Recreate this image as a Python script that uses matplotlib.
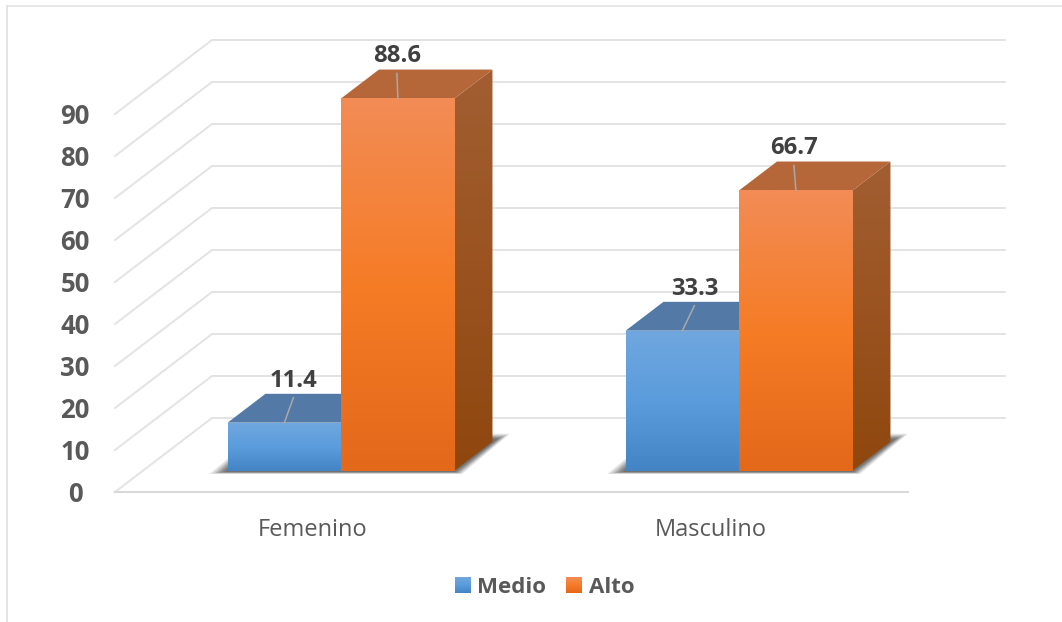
import matplotlib
matplotlib.use("Agg")
import matplotlib.pyplot as plt
import numpy as np
from matplotlib.colors import LinearSegmentedColormap
from matplotlib.image import BboxImage
from matplotlib.legend_handler import HandlerBase
from matplotlib.patches import Patch, Polygon
from matplotlib.transforms import Bbox, TransformedBbox

categories = ["Femenino", "Masculino"]
series_names = ["Medio", "Alto"]
medio = [11.4, 33.3]
alto = [88.6, 66.7]
y_ticks = [0, 10, 20, 30, 40, 50, 60, 70, 80, 90]

W, H = 1062, 622
# pixel scale of the front plane of the fake 3d box
X_PX = 398
Y_PX = 4.2
X_ZERO_PX = 313
Y_ZERO_PX = 492
DEPTH_X = 97 / X_PX
DEPTH_Y = 74 / Y_PX
BAR_W = 113.5 / X_PX
D_FRONT = 0.29
D_BACK = 0.68
FLOOR_L = (115 - X_ZERO_PX) / X_PX
FLOOR_R = (908 - X_ZERO_PX) / X_PX

BLUE = ["#70A7DF", "#5A9CDC", "#4284C4"]
ORANGE = ["#F28C56", "#F67C26", "#E3681A"]
BLUE_TOP = "#5379A6"
ORANGE_TOP = "#B5673A"
ORANGE_SIDE = ["#A25E32", "#9A5320", "#8F470E"]


def cmap_of(colors):
    return LinearSegmentedColormap.from_list("g", colors)


def proj(x, v, d):
    return (x + d * DEPTH_X, v + d * DEPTH_Y)


def gradient(ax, pts, colors, z):
    xs = [p[0] for p in pts]
    ys = [p[1] for p in pts]
    grad = np.linspace(0, 1, 256).reshape(-1, 1)
    im = ax.imshow(grad, cmap=cmap_of(colors), aspect="auto", origin="upper",
                   extent=(min(xs), max(xs), min(ys), max(ys)), zorder=z, interpolation="bilinear")
    im.set_clip_path(Polygon(pts, closed=True, transform=ax.transData))


def shadow(ax, left, right, z):
    # soft shadow on the floor, stacked see-through polygons
    x0, v0 = proj(left, 0, D_FRONT)
    x1 = proj(right, 0, D_FRONT)[0]
    for g in [16, 13, 10, 8, 6, 4, 2, 0, -2]:
        dn = max(g, 0) * 0.12 + 1.5
        pts = [(x0 - (4 + g * 0.9) / X_PX, v0 - dn / Y_PX),
               (x1 + (1 + g * 0.4) / X_PX, v0 - dn / Y_PX),
               (x1 + (44 + g * 0.7) / X_PX, v0 + (32 + g * 0.3) / Y_PX),
               (x0 + 30 / X_PX, v0 + (32 + g * 0.3) / Y_PX)]
        ax.add_patch(Polygon(pts, closed=True, fc="#2A2A2A", ec="none", alpha=0.11, zorder=z))


def draw_bar(ax, x_left, x_right, val, colors, top_color, z):
    front = [proj(x_left, 0, D_FRONT), proj(x_right, 0, D_FRONT),
             proj(x_right, val, D_FRONT), proj(x_left, val, D_FRONT)]
    top = [proj(x_left, val, D_FRONT), proj(x_right, val, D_FRONT),
           proj(x_right, val, D_BACK), proj(x_left, val, D_BACK)]
    side = [proj(x_right, 0, D_FRONT), proj(x_right, 0, D_BACK),
            proj(x_right, val, D_BACK), proj(x_right, val, D_FRONT)]
    gradient(ax, side, ORANGE_SIDE, z)
    ax.add_patch(Polygon(top, closed=True, fc=top_color, ec="none", zorder=z + 0.1))
    gradient(ax, front, colors, z + 0.2)


class GradHandler(HandlerBase):
    def __init__(self, colors):
        super().__init__()
        self.colors = colors

    def create_artists(self, legend, orig_handle, xdescent, ydescent, width, height, fontsize, trans):
        box = TransformedBbox(Bbox.from_bounds(-xdescent, -ydescent, width, height), trans)
        im = BboxImage(box, cmap=cmap_of(self.colors), interpolation="bilinear", origin="upper")
        im.set_data(np.linspace(0, 1, 64).reshape(-1, 1))
        im.set_clim(0, 1)
        return [im]


plt.rcParams["font.family"] = ["Open Sans", "DejaVu Sans"]

fig = plt.figure(figsize=(W / 100, H / 100), dpi=100, facecolor="white")
ax = fig.add_axes([0, 0, 1, 1])
ax.axis("off")

# frame around the picture
frame = "#E2E2E2"
fig.add_artist(plt.Line2D([7 / W, 7 / W], [0, 1 - 6 / H], color=frame, lw=1.3))
fig.add_artist(plt.Line2D([7 / W, 1], [1 - 6 / H, 1 - 6 / H], color=frame, lw=1.1))

# walls and floor
grid = "#E3E3E3"
for v in y_ticks:
    x_a, v_a = proj(FLOOR_L, v, 0)
    x_b, v_b = proj(FLOOR_L, v, 1)
    x_c, v_c = proj(FLOOR_R, v, 1)
    ax.plot([x_a, x_b, x_c], [v_a, v_b, v_c], color=grid, lw=1.4, zorder=1, solid_joinstyle="miter")
x_a, v_a = proj(FLOOR_L, 0, 0)
x_c, v_c = proj(FLOOR_R, 0, 0)
ax.plot([x_a, x_c], [v_a, v_c], color="#D9D9D9", lw=1.5, zorder=1)

for i, cat in enumerate(categories):
    left = i - BAR_W
    mid = i
    right = i + BAR_W
    shadow(ax, left, right, 2)
    draw_bar(ax, mid, right, alto[i], ORANGE, ORANGE_TOP, 4)
    draw_bar(ax, left, mid, medio[i], BLUE, BLUE_TOP, 3)

# value labels with their leader lines: lean in pixels
leans = [[9, -1], [12, -2]]
for i in range(len(categories)):
    for j, vals in enumerate([medio, alto]):
        x = i + (j - 0.5) * BAR_W
        a = proj(x, vals[i], D_FRONT)
        b = (a[0] + leans[i][j] / X_PX, a[1] + 25 / Y_PX)
        ax.plot([a[0], b[0]], [a[1], b[1]], color="#A9A9A9", lw=1.1, zorder=6)
        ax.text(b[0], b[1] + 17 / Y_PX, f"{vals[i]:.1f}", ha="center", va="center",
                fontsize=17.2, fontweight="bold", color="#404040", zorder=7)

for v in y_ticks:
    ax.text(FLOOR_L - 40 / X_PX, v - 2.5 / Y_PX, str(v), ha="center", va="center",
            fontsize=18.5, fontweight="bold", color="#595959")

for i, cat in enumerate(categories):
    ax.text(i - 0.5 / X_PX, -37.5 / Y_PX, cat, ha="center", va="center", fontsize=17, color="#595959")

handles = [Patch(label=series_names[0]), Patch(label=series_names[1])]
leg = ax.legend(handles=handles, labels=series_names, loc="center", ncol=2,
                bbox_to_anchor=(544.5 / W, 1 - 587.5 / H), bbox_transform=fig.transFigure,
                frameon=False, fontsize=16, handlelength=0.72, handleheight=0.72,
                handletextpad=0.3, columnspacing=0.9, borderpad=0,
                handler_map={handles[0]: GradHandler(BLUE), handles[1]: GradHandler(ORANGE)})
for t in leg.get_texts():
    t.set_fontweight("bold")
    t.set_color("#595959")

# set the limits last, imshow changes them
x_low = -X_ZERO_PX / X_PX
ax.set_xlim(x_low, x_low + W / X_PX)
ax.set_ylim((Y_ZERO_PX - H) / Y_PX, Y_ZERO_PX / Y_PX)

fig.savefig("out.png", dpi=100, facecolor="white")
